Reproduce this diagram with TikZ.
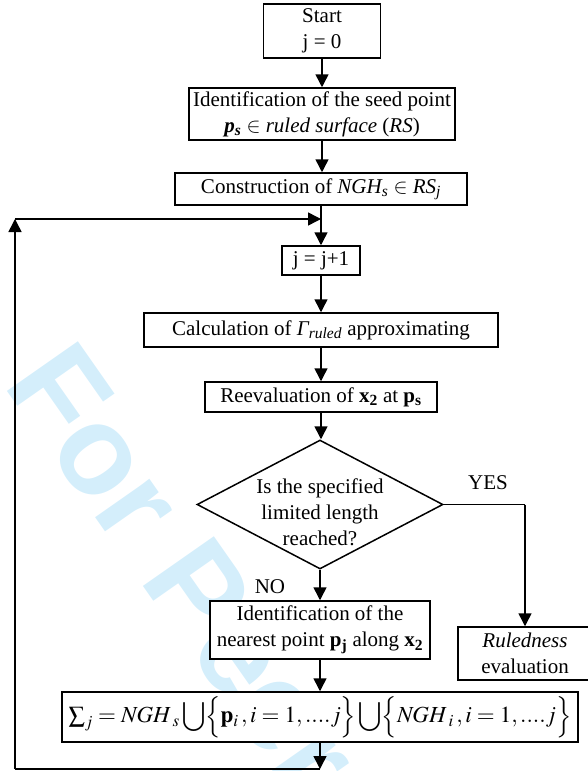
\documentclass[tikz,border=0pt]{standalone}
\usepackage{amsmath}
\usepackage{mathptmx}
\usepackage{fontspec}
\setmainfont{Liberation Serif}
\newfontfamily\markfont{Liberation Sans}
\usetikzlibrary{arrows.meta, shapes.geometric}
\definecolor{wmark}{RGB}{212,238,251}

\begin{document}
\begin{tikzpicture}[x=1pt, y=-1pt, line width=1.5pt,
         >={Triangle[length=13pt, width=13pt]},
         font=\fontsize{21}{26}\selectfont,
         box/.style={
         % The shape:
         rectangle,
         % The border
         draw=black,
         % The filling
         fill=white,
         % The size:
         inner sep=0pt, align=center}]
   \useasboundingbox (0,0) rectangle (588,771);
   % watermark behind everything
   \node [wmark, font=\markfont\bfseries\fontsize{126}{126}\selectfont,
          rotate=-55, anchor=base west, inner sep=0pt] (mark) at (2,384) {For Peer};
   \node [box, minimum width=117, minimum height=54] (start) at (322,31) {Start\\j = 0};
   \node [box, minimum width=266, minimum height=52] (seed) at (322,114)
         {Identification of the seed point\\\textbf{\textit{p\textsubscript{s}}} $\in$\ \textit{ruled surface} (\textit{RS})};
   \node [box, minimum width=292, minimum height=32] (cons) at (321,189)
         {Construction of \textit{NGH\textsubscript{s}} $\in$\ \textit{RS\textsubscript{j}}};
   \node [box, minimum width=78, minimum height=29] (jinc) at (321,260.5) {j = j+1};
   \node [box, minimum width=354, minimum height=34] (calc) at (321,330)
         {Calculation of \textit{Γ\textsubscript{ruled}} approximating};
   \node [box, minimum width=232, minimum height=30] (reev) at (321,397)
         {Reevaluation of \textbf{x\textsubscript{2}} at \textbf{p\textsubscript{s}}};
   \node [diamond, draw, fill=white, inner sep=0pt, minimum width=246, minimum height=129] (dec) at (320,504.5) {};
   \node [align=center, inner sep=0pt] (dectext) at (320,512) {Is the specified\\limited length\\reached?};
   \node [box, minimum width=220, minimum height=58] (near) at (320,630)
         {Identification of the\\nearest point \textbf{p\textsubscript{j}} along \textbf{x\textsubscript{2}}};
   \node [box, minimum width=134, minimum height=53] (rul) at (525,653.5) {\textit{Ruledness}\\evaluation};
   \node [box, minimum width=516, minimum height=50, font=\fontsize{23}{26}\selectfont] (sigma) at (320,717)
         {$\textstyle\sum_{j} = \mathit{NGH}_{\,s}\displaystyle\bigcup\Bigl\{\mathbf{p}_{i}\,,
           i = 1,....j\Bigr\}\displaystyle\bigcup\Bigl\{\mathit{NGH}_{\,i}\,, i = 1,....j\Bigr\}$};
   \node (yes) at (488,483) {YES};
   \node (no) at (270,587) {NO};
   % straight arrows down the main column
   \foreach \a/\b in {start/seed, seed/cons, jinc/calc, calc/reev, reev/dec, dec/near, near/sigma}
      \draw [->] (\a.south) -- (\a.south |- \b.north);
   % loop back
   \coordinate (join) at (321,219);
   \coordinate (bot) at (320,769);
   \coordinate (botleft) at (15,769);
   \coordinate (topleft) at (15,219);
   \draw (cons.south) -- (join);
   \draw [->] (join) -- (jinc.north);
   \draw [->] (sigma.south) -- (bot);
   \draw (bot) -- (botleft);
   \draw [->] (botleft) -- (topleft);
   \draw [->] (topleft) -- (join);
   % YES branch
   \coordinate (turn) at (dec.east -| rul.north);
   \draw (dec.east) -- (turn);
   \draw [->] (turn) -- (rul.north);
\end{tikzpicture}
\end{document}
